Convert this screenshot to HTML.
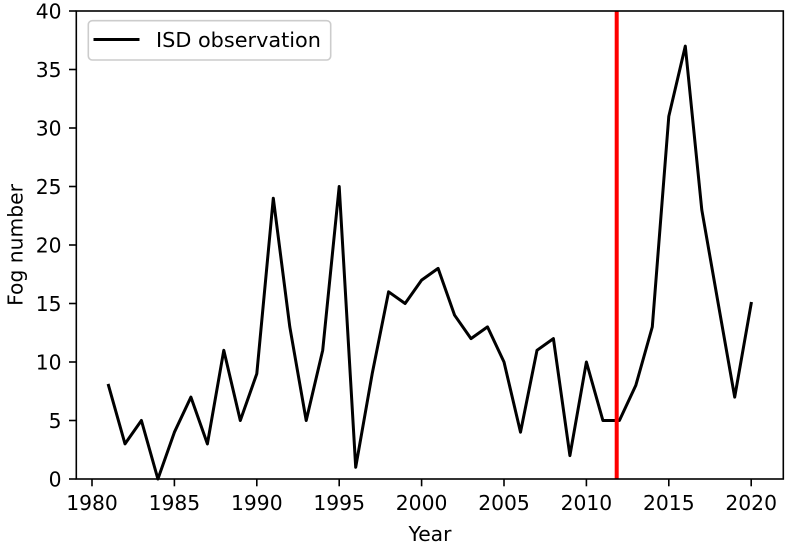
<!DOCTYPE html>
<html>
<head>
<meta charset="utf-8">
<style>
  html, body { margin:0; padding:0; background:#fff; }
  svg { display:block; }
  text { font-family: "DejaVu Sans", "Liberation Sans", sans-serif; fill:#000; }
</style>
</head>
<body>
<svg width="790" height="550" viewBox="0 0 790 550" xmlns="http://www.w3.org/2000/svg">
  <rect x="0" y="0" width="790" height="550" fill="#fff"/>

  <!-- data line -->
  <polyline fill="none" stroke="#000" stroke-width="3" stroke-linejoin="round" stroke-linecap="square"
    points="
    108.5,385.4
    125.0,443.9
    141.4,420.5
    157.9,479.0
    174.4,432.2
    190.9,397.1
    207.4,443.9
    223.8,350.3
    240.3,420.5
    256.8,373.7
    273.3,198.2
    289.8,326.9
    306.2,420.5
    322.7,350.3
    339.2,186.5
    355.7,467.3
    372.2,373.7
    388.6,291.8
    405.1,303.5
    421.6,280.1
    438.1,268.4
    454.6,315.2
    471.0,338.6
    487.5,326.9
    504.0,362.0
    520.5,432.2
    537.0,350.3
    553.4,338.6
    569.9,455.6
    586.4,362.0
    602.9,420.5
    619.4,420.5
    635.8,385.4
    652.3,326.9
    668.8,116.3
    685.3,46.1
    701.8,209.9
    718.2,303.5
    734.7,397.1
    751.2,303.5"/>

  <!-- red vertical line -->
  <line x1="616.7" y1="11" x2="616.7" y2="479" stroke="#ff0000" stroke-width="4"/>

  <!-- axes frame -->
  <rect x="76.3" y="11" width="707" height="468" fill="none" stroke="#000" stroke-width="1.6"/>

  <!-- y ticks -->
  <g stroke="#000" stroke-width="1.6">
    <line x1="69" y1="479" x2="76.3" y2="479"/>
    <line x1="69" y1="420.5" x2="76.3" y2="420.5"/>
    <line x1="69" y1="362" x2="76.3" y2="362"/>
    <line x1="69" y1="303.5" x2="76.3" y2="303.5"/>
    <line x1="69" y1="245" x2="76.3" y2="245"/>
    <line x1="69" y1="186.5" x2="76.3" y2="186.5"/>
    <line x1="69" y1="128" x2="76.3" y2="128"/>
    <line x1="69" y1="69.5" x2="76.3" y2="69.5"/>
    <line x1="69" y1="11" x2="76.3" y2="11"/>
  </g>
  <g font-size="20.3" text-anchor="end">
    <text x="61.5" y="486.3">0</text>
    <text x="61.5" y="427.8">5</text>
    <text x="61.5" y="369.3">10</text>
    <text x="61.5" y="310.8">15</text>
    <text x="61.5" y="252.3">20</text>
    <text x="61.5" y="193.8">25</text>
    <text x="61.5" y="135.3">30</text>
    <text x="61.5" y="76.8">35</text>
    <text x="61.5" y="18.3">40</text>
  </g>

  <!-- x ticks -->
  <g stroke="#000" stroke-width="1.6">
    <line x1="92" y1="479" x2="92" y2="486.3"/>
    <line x1="174.4" y1="479" x2="174.4" y2="486.3"/>
    <line x1="256.8" y1="479" x2="256.8" y2="486.3"/>
    <line x1="339.2" y1="479" x2="339.2" y2="486.3"/>
    <line x1="421.6" y1="479" x2="421.6" y2="486.3"/>
    <line x1="504" y1="479" x2="504" y2="486.3"/>
    <line x1="586.4" y1="479" x2="586.4" y2="486.3"/>
    <line x1="668.8" y1="479" x2="668.8" y2="486.3"/>
    <line x1="751.2" y1="479" x2="751.2" y2="486.3"/>
  </g>
  <g font-size="20.3" text-anchor="middle">
    <text x="92" y="510">1980</text>
    <text x="174.4" y="510">1985</text>
    <text x="256.8" y="510">1990</text>
    <text x="339.2" y="510">1995</text>
    <text x="421.6" y="510">2000</text>
    <text x="504" y="510">2005</text>
    <text x="586.4" y="510">2010</text>
    <text x="668.8" y="510">2015</text>
    <text x="751.2" y="510">2020</text>
  </g>

  <!-- axis labels -->
  <text x="430" y="541" font-size="20.3" text-anchor="middle">Year</text>
  <text transform="translate(22.5,245) rotate(-90)" font-size="20.3" text-anchor="middle">Fog number</text>

  <!-- legend -->
  <rect x="88.3" y="20.7" width="242.4" height="39.3" rx="4" ry="4" fill="#fff" fill-opacity="0.8" stroke="#cccccc" stroke-width="1.6"/>
  <line x1="95" y1="39.5" x2="138" y2="39.5" stroke="#000" stroke-width="3" stroke-linecap="square"/>
  <text x="156" y="47" font-size="20.8">ISD observation</text>
</svg>
</body>
</html>
